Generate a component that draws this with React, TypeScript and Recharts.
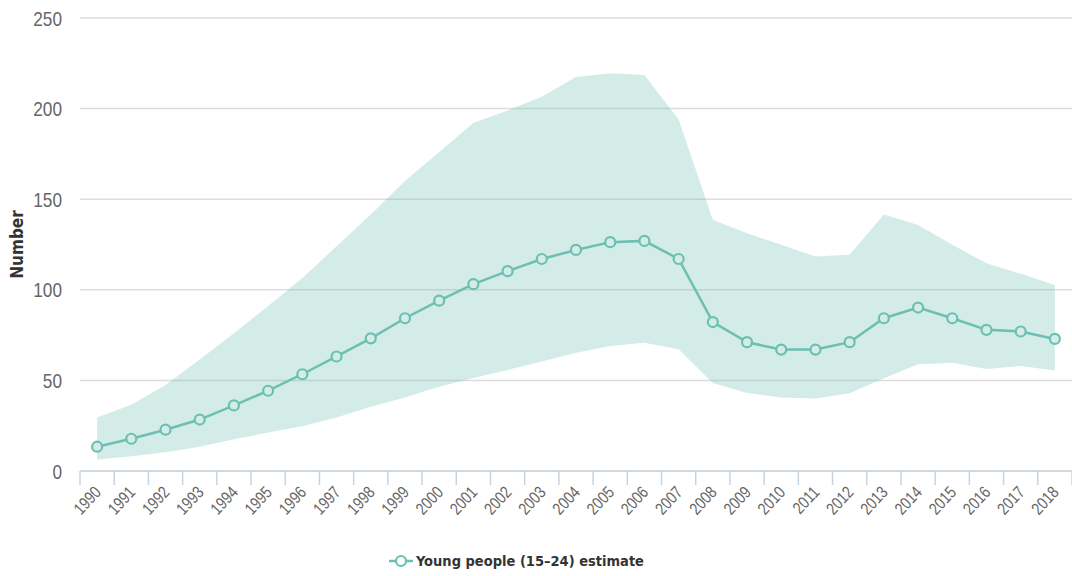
import React from 'react';
import { ComposedChart, Area, Line, XAxis, YAxis, CartesianGrid } from 'recharts';

// chart values
const years = [
  '1990', '1991', '1992', '1993', '1994', '1995', '1996', '1997', '1998', '1999',
  '2000', '2001', '2002', '2003', '2004', '2005', '2006', '2007', '2008', '2009',
  '2010', '2011', '2012', '2013', '2014', '2015', '2016', '2017', '2018',
];
const estimate = [
  13.4, 17.8, 22.8, 28.4, 36.2, 44.3, 53.4, 63.2, 73.2, 84.3,
  94, 103.1, 110.3, 117, 122, 126.3, 127, 117, 82.2, 71.1,
  67, 67, 71.1, 84.3, 90.2, 84.3, 77.9, 77, 72.9,
];
const upper = [
  29.5, 36.5, 47.5, 61.5, 76, 91, 106.5, 124, 141.5, 160,
  176, 192, 199, 206.5, 217.5, 219.5, 218.5, 194, 138.6, 131.2,
  124.8, 118.4, 119.3, 141.6, 135.8, 124.8, 114.7, 108.8, 102.7,
];
const lower = [
  6.4, 8.2, 10.3, 13.4, 17.5, 21.2, 24.7, 29.5, 35.5, 40.5,
  46.5, 51.3, 55.8, 60.4, 65.3, 69, 70.8, 67.2, 48.5, 43,
  40.5, 40, 42.9, 51.2, 58.9, 59.8, 56.3, 58, 55.4,
];
const yTicks = [0, 50, 100, 150, 200, 250];
const seriesName = 'Young people (15–24) estimate';
const yLabel = 'Number';

const data = years.map((year, i) => ({
  year,
  estimate: estimate[i],
  range: [lower[i], upper[i]],
}));

const W = 1072;
const H = 576;
const Y_AXIS_W = 80;
const BAND = (W - Y_AXIS_W) / years.length;

const TEAL = '#6cbfb1';
const AXIS = '#c6d4df';
const sans = '"Liberation Sans", Arial, sans-serif';
const condensed = '"DejaVu Sans Condensed", "DejaVu Sans", sans-serif';
const NARROW = 0.82; // Arial Narrow look

const YearTick = (props: any) => {
  const { x, y, payload, index } = props;
  const last = index === years.length - 1;
  const tx = x + 5;
  const ty = y + 22;
  return (
    <g>
      <line x1={x - BAND / 2} y1={y} x2={x - BAND / 2} y2={y + 14} stroke={AXIS} strokeWidth={1.5} />
      {last && <line x1={x + BAND / 2} y1={y} x2={x + BAND / 2} y2={y + 14} stroke={AXIS} strokeWidth={1.5} />}
      <text
        x={0}
        y={0}
        textAnchor="end"
        transform={`translate(${tx}, ${ty}) rotate(-47) scale(${NARROW}, 1)`}
        fill="#666"
        fontSize={17}
        fontFamily={sans}
      >
        {payload.value}
      </text>
    </g>
  );
};

const ValueTick = (props: any) => {
  const { x, y, payload } = props;
  return (
    <text
      x={0}
      y={0}
      dy="0.36em"
      textAnchor="end"
      transform={`translate(${x}, ${y}) scale(${NARROW}, 1)`}
      fill="#666"
      fontSize={21}
      fontFamily={sans}
    >
      {payload.value}
    </text>
  );
};

const AxisTitle = (props: any) => {
  const { viewBox } = props;
  const cx = 17;
  const cy = viewBox.y + viewBox.height / 2;
  return (
    <text
      x={cx}
      y={cy}
      textAnchor="middle"
      dominantBaseline="central"
      transform={`rotate(-90, ${cx}, ${cy})`}
      fill="#333"
      fontSize={17}
      fontWeight="bold"
      fontFamily={condensed}
    >
      {yLabel}
    </text>
  );
};

export default function App() {
  return (
    <div style={{ position: 'absolute', left: 0, top: 0, width: W, height: H, background: '#fff' }}>
      <ComposedChart width={W} height={H} data={data} margin={{ top: 18, right: 0, left: 0, bottom: 45 }}>
        <CartesianGrid vertical={false} stroke="#dddddd" strokeWidth={1.5} />
        <XAxis
          dataKey="year"
          scale="band"
          interval={0}
          tickLine={false}
          tickSize={0}
          tickMargin={0}
          axisLine={{ stroke: AXIS, strokeWidth: 1.5 }}
          tick={<YearTick />}
          height={60}
        />
        <YAxis
          width={Y_AXIS_W}
          domain={[0, 250]}
          ticks={yTicks}
          axisLine={false}
          tickLine={false}
          tickSize={0}
          tickMargin={18}
          tick={<ValueTick />}
          label={<AxisTitle />}
        />
        <Area
          dataKey="range"
          stroke="none"
          fill={TEAL}
          fillOpacity={0.3}
          isAnimationActive={false}
          activeDot={false}
        />
        <Line
          dataKey="estimate"
          name={seriesName}
          stroke={TEAL}
          strokeWidth={2.5}
          dot={{ r: 5, stroke: TEAL, strokeWidth: 2.2, fill: '#d3ece7', fillOpacity: 1 }}
          isAnimationActive={false}
        />
      </ComposedChart>
      <div
        style={{
          position: 'absolute',
          left: 388,
          top: 553,
          display: 'flex',
          alignItems: 'center',
          fontFamily: condensed,
          fontWeight: 'bold',
          fontSize: 14.5,
          color: '#333',
          whiteSpace: 'nowrap',
        }}
      >
        <svg width={26} height={16} style={{ marginRight: 2 }}>
          <line x1={1} y1={8} x2={25} y2={8} stroke={TEAL} strokeWidth={2.5} />
          <circle cx={13} cy={8} r={5} stroke={TEAL} strokeWidth={2.2} fill="#fff" />
        </svg>
        <span>{seriesName}</span>
      </div>
    </div>
  );
}
